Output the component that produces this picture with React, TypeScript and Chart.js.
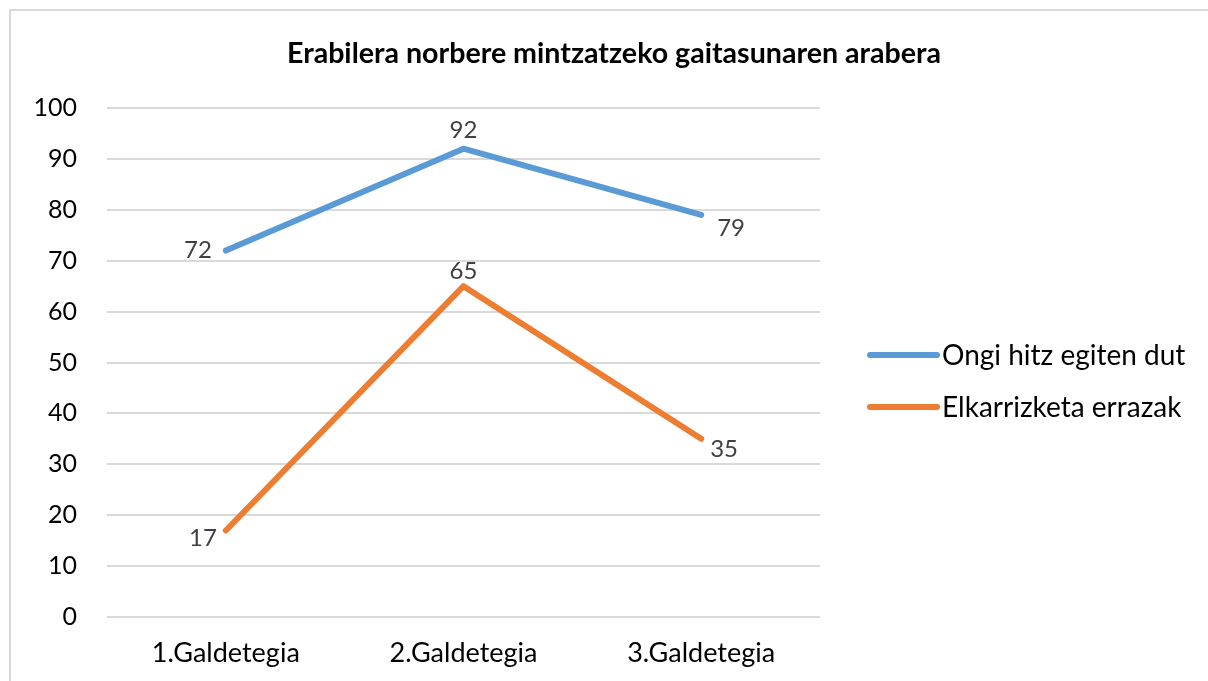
import React, { useEffect, useRef } from "react";
import { Chart, registerables } from "chart.js";

Chart.register(...registerables);

const categories = ["1.Galdetegia", "2.Galdetegia", "3.Galdetegia"];
const seriesNames = ["Ongi hitz egiten dut", "Elkarrizketa errazak"];
const ongiValues = [72, 92, 79];
const elkarValues = [17, 65, 35];
const yTicks = [0, 10, 20, 30, 40, 50, 60, 70, 80, 90, 100];
const titleText = "Erabilera norbere mintzatzeko gaitasunaren arabera";

const FONT = "Lato, 'Noto Sans', sans-serif";
const colors = ["#5B9BD5", "#ED7D31"];
// label offsets (dx, dy, align) per series per point
const labelStyle = [
  [
    { dx: -14, dy: 0, align: "right" },
    { dx: 0, dy: -18, align: "center" },
    { dx: 16, dy: 13, align: "left" },
  ],
  [
    { dx: -9, dy: 8, align: "right" },
    { dx: 0, dy: -15, align: "center" },
    { dx: 9, dy: 10, align: "left" },
  ],
];

const overlayPlugin = {
  id: "overlay",
  afterDatasetsDraw(chart: any) {
    const ctx = chart.ctx;
    ctx.save();
    // data labels
    ctx.font = `24px ${FONT}`;
    ctx.fillStyle = "#404040";
    ctx.textBaseline = "middle";
    chart.data.datasets.forEach((ds: any, di: number) => {
      const meta = chart.getDatasetMeta(di);
      meta.data.forEach((pt: any, i: number) => {
        const st = labelStyle[di][i];
        ctx.textAlign = st.align;
        ctx.fillText(String(ds.data[i]), pt.x + st.dx, pt.y + st.dy);
      });
    });
    // title
    ctx.font = `bold 28.6px ${FONT}`;
    ctx.fillStyle = "#000000";
    ctx.textAlign = "center";
    ctx.fillText(titleText, 614, 54);
    // legend
    ctx.font = `28px ${FONT}`;
    ctx.textAlign = "left";
    chart.data.datasets.forEach((ds: any, di: number) => {
      const y = 355 + di * 52;
      ctx.strokeStyle = ds.borderColor;
      ctx.lineWidth = 6;
      ctx.lineCap = "round";
      ctx.beginPath();
      ctx.moveTo(870, y);
      ctx.lineTo(937, y);
      ctx.stroke();
      ctx.fillStyle = "#000000";
      ctx.fillText(ds.label, 942, y + 1);
    });
    ctx.restore();
  },
};

export default function App() {
  const ref = useRef<HTMLCanvasElement>(null);
  useEffect(() => {
    if (!ref.current) return;
    const chart = new Chart(ref.current, {
      type: "line",
      data: {
        labels: categories,
        datasets: [
          {
            label: seriesNames[0],
            data: ongiValues,
            borderColor: colors[0],
            backgroundColor: colors[0],
            borderWidth: 6,
            pointRadius: 0,
            borderCapStyle: "round",
            borderJoinStyle: "round",
            tension: 0,
          },
          {
            label: seriesNames[1],
            data: elkarValues,
            borderColor: colors[1],
            backgroundColor: colors[1],
            borderWidth: 6,
            pointRadius: 0,
            borderCapStyle: "round",
            borderJoinStyle: "round",
            tension: 0,
          },
        ],
      },
      options: {
        responsive: false,
        animation: false,
        layout: { padding: { left: 0, top: 108, right: 388, bottom: 0 } },
        plugins: {
          legend: { display: false },
          title: { display: false },
          tooltip: { enabled: false },
        },
        scales: {
          x: {
            offset: true,
            grid: { display: false, drawTicks: false },
            border: { display: false },
            ticks: {
              padding: 20,
              color: "#000000",
              font: { family: FONT, size: 27 },
            },
            afterFit(scale: any) {
              scale.height = 64;
            },
          },
          y: {
            min: 0,
            max: 100,
            afterBuildTicks(scale: any) {
              scale.ticks = yTicks.map((v) => ({ value: v }));
            },
            grid: { color: "#d9d9d9", lineWidth: 2, drawTicks: false },
            border: { display: false },
            ticks: {
              padding: 30,
              color: "#000000",
              font: { family: FONT, size: 25 },
            },
            afterFit(scale: any) {
              scale.width = 107;
            },
          },
        },
      },
      plugins: [overlayPlugin],
    } as any);
    return () => chart.destroy();
  }, []);
  return (
    <div style={{ position: "fixed", left: 0, top: 0, width: 1208, height: 681, overflow: "hidden", background: "#fff" }}>
      <div style={{ position: "absolute", left: 9, top: 9, width: 1400, height: 900, borderLeft: "2px solid #d9d9d9", borderTop: "2px solid #d9d9d9", boxSizing: "border-box" }} />
      <canvas ref={ref} width={1208} height={681} style={{ position: "absolute", left: 0, top: 0 }} />
    </div>
  );
}
